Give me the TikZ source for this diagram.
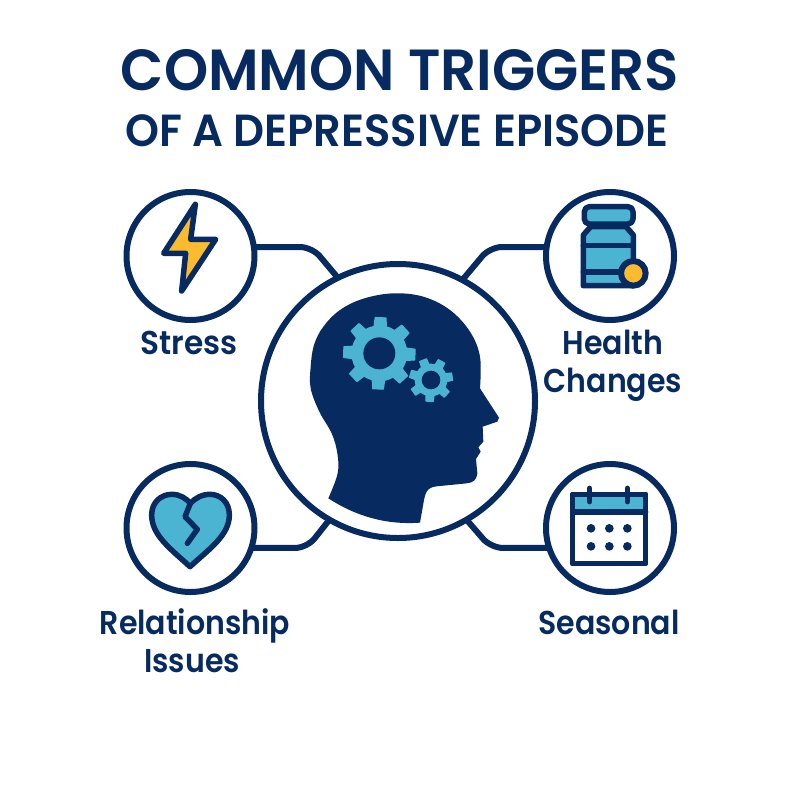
\documentclass[tikz,border=0pt]{standalone}
\usepackage{fontspec}
\setmainfont{Poppins}
\newfontfamily\labfont[FakeStretch=.91]{Poppins SemiBold}
\newfontfamily\ttlfont[FakeStretch=.97]{Poppins SemiBold}
\newfontfamily\subfont[FakeStretch=.96]{Poppins SemiBold}
\definecolor{navy}{HTML}{072B61}
\definecolor{teal}{HTML}{4BB4D2}
\definecolor{gold}{HTML}{FBBB2E}
\newcommand{\mygear}[7]{% cx cy outer root hole teeth rot
  \pgfmathsetmacro{\stp}{360/#6}
  \fill[teal] (#1,#2) circle[radius=#4];
  \foreach \k in {1,...,#6}{
    \pgfmathsetmacro{\aa}{#7+\k*\stp}
    \fill[teal,draw=teal,line join=round,line width=1.2pt]
      ({#1+(#4-4)*cos(\aa-.30*\stp)},{#2-(#4-4)*sin(\aa-.30*\stp)})
      -- ({#1+#3*cos(\aa-.19*\stp)},{#2-#3*sin(\aa-.19*\stp)})
      -- ({#1+#3*cos(\aa+.19*\stp)},{#2-#3*sin(\aa+.19*\stp)})
      -- ({#1+(#4-4)*cos(\aa+.30*\stp)},{#2-(#4-4)*sin(\aa+.30*\stp)}) -- cycle;
  }
  \fill[navy] (#1,#2) circle[radius=#5];
}
\tikzset{
  hub/.style={circle,draw=navy,fill=white,line width=6pt,minimum size=274pt,inner sep=0pt,outer sep=0pt},
  trig/.style={circle,draw=navy,fill=white,line width=6pt,minimum size=128pt,inner sep=0pt,outer sep=0pt},
  link/.style={draw=navy,line width=6pt,rounded corners=12pt},
  icon/.style={draw=navy,line width=5.5pt,line join=round,line cap=round},
  lab/.style={text=navy,anchor=base,align=center,font=\labfont\fontsize{33}{38}\selectfont},
  ttl/.style={text=navy,anchor=base}
}
\begin{document}
\begin{tikzpicture}[x=1pt,y=-1pt]
\useasboundingbox (0,0) rectangle (800,800);
\node[ttl,font=\ttlfont\fontsize{58}{58}\selectfont] (t1) at (400,90) {COMMON TRIGGERS};
\node[ttl,font=\subfont\fontsize{45}{45}\selectfont] (t2) at (397,146) {OF A DEPRESSIVE EPISODE};
\node[hub] (c) at (398,401) {};
\node[trig] (tl) at (190.5,256) {};
\node[trig] (tr) at (610,256) {};
\node[trig] (bl) at (190.5,528) {};
\node[trig] (br) at (610,528) {};
\coordinate (b1) at (312,247);
\coordinate (b2) at (490,247);
\coordinate (b3) at (307,548);
\coordinate (b4) at (491,548);
\draw[link] (tl.8) -- (b1) -- (c.116);
\draw[link] (tr.172) -- (b2) -- (c.62);
\draw[link] (bl.-18) -- (b3) -- (c.240);
\draw[link] (br.198) -- (b4) -- (c.-60);
% head
\begin{scope}[shift={(260,260)},x=.33333pt,y=-.33333pt]
\fill[navy] plot[smooth,tension=.6] coordinates {(205,715)(233,640)(232,580)(215,520)(178,455)(152,385)(152,320)(162,255)(190,200)(240,150)(310,116)(400,100)(490,110)(570,150)(630,215)(660,290)(660,385)}
 -- (717,473) -- (712,485) -- (668,500) -- (670,545) -- (655,562) -- (662,575) -- (648,597) -- (652,640)
 .. controls (650,660) and (640,668) .. (620,670) -- (540,678) .. controls (505,680) and (498,690) .. (492,720) -- (480,788)
 .. controls (380,795) and (290,770) .. (205,715) -- cycle;
\mygear{358}{280}{108}{84}{48}{8}{-47}
\mygear{513}{360}{65}{49}{28}{7}{9}
\end{scope}
% bolt
\begin{scope}[shift={(120,190)},x=.33333pt,y=-.33333pt]
\filldraw[icon,fill=gold] (226,43) -- (212,148) -- (287,148) -- (185,303) -- (197,190) -- (131,190) -- cycle;
\end{scope}
% bottle
\begin{scope}[shift={(460,190)},x=.33333pt,y=-.33333pt]
\filldraw[icon,fill=teal] (392,110) -- (498,110) -- (520,135) -- (520,287) -- (370,287) -- (370,135) -- cycle;
\draw[icon] (370,166) -- (520,166);
\draw[icon] (370,246) -- (520,246);
\filldraw[icon,fill=teal,rounded corners=5pt] (373,50) rectangle (519,102);
\filldraw[draw=navy,fill=gold,line width=6pt] (520,250) circle[radius=37];
\end{scope}
% heart
\begin{scope}[shift={(120,460)},x=.33333pt,y=-.33333pt]
\filldraw[icon,fill=teal] (210,320) .. controls (150,265) and (95,225) .. (95,165) .. controls (95,125) and (125,103) .. (155,103) .. controls (180,103) and (198,115) .. (211,130) .. controls (225,115) and (245,103) .. (270,103) .. controls (300,103) and (328,125) .. (328,165) .. controls (328,225) and (270,265) .. (210,320) -- cycle;
\draw[icon] (211,130) -- (195,170) -- (232,208) -- (202,250);
\end{scope}
% calendar
\begin{scope}[shift={(460,460)},x=.33333pt,y=-.33333pt]
\filldraw[icon,fill=white] (338,103) rectangle (557,310);
\fill[teal] (338,103) rectangle (557,156);
\draw[icon] (338,103) rectangle (557,310);
\draw[icon] (338,156) -- (557,156);
\draw[icon] (389,85) -- (389,125);
\draw[icon] (502,85) -- (502,125);
\foreach \px in {393,448,502}{\foreach \py in {205,259}{\fill[navy] (\px,\py) circle[radius=13];}}
\end{scope}
\node[lab] (l1) at (189,354) {\scalebox{1.04}[1]{Stress}};
\node[lab] (l2) at (613,392) {Health\\Changes};
\node[lab] (l3) at (195,672) {Relationship\\\hspace*{-6pt}Issues};
\node[lab] (l4) at (609,634) {Seasonal};
\end{tikzpicture}
\end{document}
